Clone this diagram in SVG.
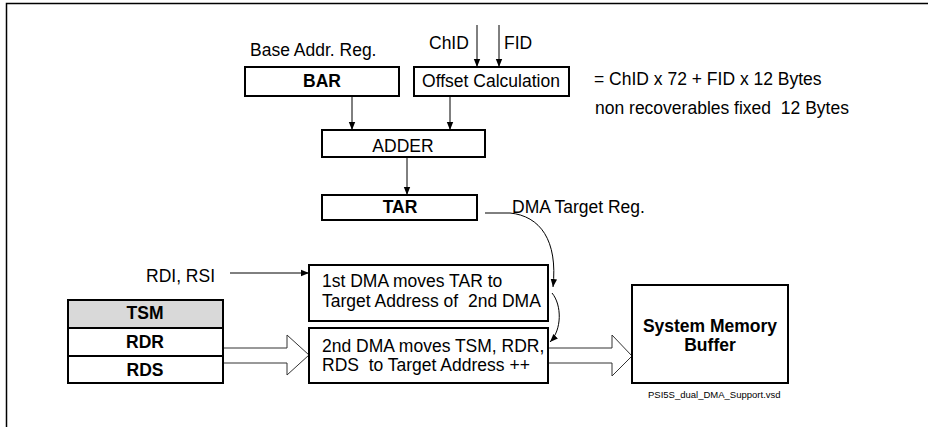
<svg xmlns="http://www.w3.org/2000/svg" width="928" height="427" viewBox="0 0 928 427">
<defs>
<marker id="ah" viewBox="0 0 10 10" refX="10" refY="5" markerWidth="8" markerHeight="8" markerUnits="userSpaceOnUse" orient="auto">
<path d="M0,1 L10,5 L0,9 z" fill="#000"/>
</marker>
<style>
text{font-family:"Liberation Sans",Arial,sans-serif;font-size:17.5px;fill:#000;white-space:pre}
.b{font-weight:bold}
.m{text-anchor:middle}
.box{fill:#fff;stroke:#000;stroke-width:2}
.ln{fill:none;stroke:#000;stroke-width:1}
.blk{fill:#fff;stroke:#333;stroke-width:1}
</style>
</defs>
<rect width="928" height="427" fill="#fff"/>
<path d="M6.5,427 V3.5 H928" fill="none" stroke="#000" stroke-width="1.5"/>

<g id="connectors">
<line class="ln" x1="477" y1="25" x2="477" y2="67" marker-end="url(#ah)"/>
<line class="ln" x1="499" y1="25" x2="499" y2="67" marker-end="url(#ah)"/>
<line class="ln" x1="352" y1="96" x2="352" y2="130" marker-end="url(#ah)"/>
<line class="ln" x1="450" y1="96" x2="450" y2="130" marker-end="url(#ah)"/>
<line class="ln" x1="407" y1="157" x2="407" y2="195" marker-end="url(#ah)"/>
<line class="ln" x1="230" y1="273" x2="309" y2="273" marker-end="url(#ah)"/>
<path class="ln" d="M485,213 H510 C540,216 558,240 553,287" marker-end="url(#ah)"/>
<path class="ln" d="M552,293 C562,305 562,330 550,342" marker-end="url(#ah)"/>
<path class="blk" d="M223,348 H287 V335 L309,355 L287,375 V363 H223 Z"/>
<path class="blk" d="M548,348 H612 V335 L632,356 L612,376 V363 H548 Z"/>
</g>

<g id="bar">
<text x="250" y="56">Base Addr. Reg.</text>
<rect class="box" x="245" y="67" width="154" height="29"/>
<text class="b m" x="322" y="87">BAR</text>
</g>
<g id="offset">
<text x="429" y="49">ChID</text>
<text x="504" y="49">FID</text>
<rect class="box" x="414" y="67" width="155" height="29"/>
<text class="m" x="491" y="87">Offset Calculation</text>
</g>
<g id="formula">
<text x="594" y="85">= ChID x 72 + FID x 12 Bytes</text>
<text x="595" y="114">non recoverables fixed  12 Bytes</text>
</g>
<g id="adder">
<rect class="box" x="322" y="130" width="163" height="27"/>
<text class="m" x="403" y="152">ADDER</text>
</g>
<g id="tar">
<rect class="box" x="322" y="195" width="155" height="25"/>
<text class="b m" x="400" y="213">TAR</text>
<text x="512" y="213">DMA Target Reg.</text>
</g>
<g id="rdi">
<text x="146" y="282">RDI, RSI</text>
</g>
<g id="dma1">
<rect class="box" x="309" y="265" width="239" height="56"/>
<text x="322" y="287">1st DMA moves TAR to</text>
<text x="322" y="307">Target Address of  2nd DMA</text>
</g>
<g id="dma2">
<rect class="box" x="309" y="328" width="239" height="55"/>
<text x="322" y="352">2nd DMA moves TSM, RDR,</text>
<text x="322" y="371">RDS  to Target Address ++</text>
</g>
<g id="table">
<rect x="68" y="300" width="155" height="28" fill="#d9d9d9" stroke="#000" stroke-width="2"/>
<rect class="box" x="68" y="328" width="155" height="28"/>
<rect class="box" x="68" y="356" width="155" height="27"/>
<text class="b m" x="145" y="319">TSM</text>
<text class="b m" x="145" y="348">RDR</text>
<text class="b m" x="145" y="376">RDS</text>
</g>
<g id="smb">
<rect class="box" x="632" y="285" width="156" height="98"/>
<text class="b m" x="710" y="332">System Memory</text>
<text class="b m" x="710" y="351">Buffer</text>
</g>
<g id="footer">
<text x="648" y="398" style="font-size:9.5px">PSI5S_dual_DMA_Support.vsd</text>
</g>
</svg>
